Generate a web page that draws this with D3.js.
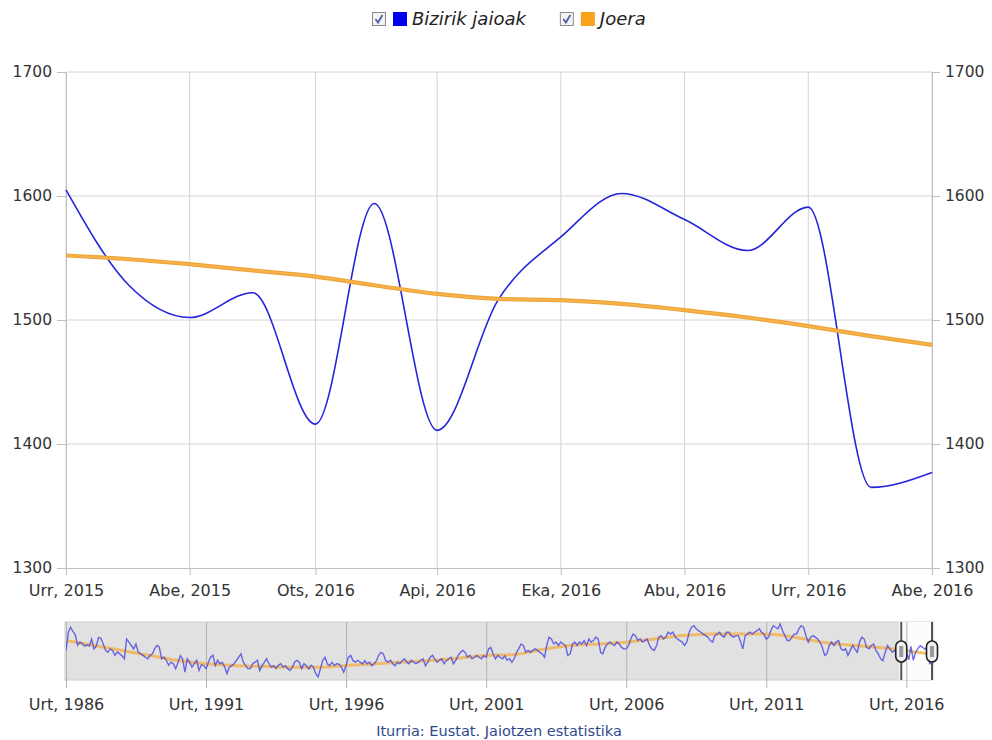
<!DOCTYPE html>
<html>
<head>
<meta charset="utf-8">
<script src="https://cdn.jsdelivr.net/npm/d3@7"></script>
<style>
body { margin: 0; background: #fff; }
text { font-family: "DejaVu Sans", Verdana, sans-serif; }
</style>
</head>
<body>
<div id="chart"></div>
<script>
// main window: Urr 2015 .. Abe 2016
var months = ["2015-10","2015-11","2015-12","2016-01","2016-02","2016-03","2016-04",
              "2016-05","2016-06","2016-07","2016-08","2016-09","2016-10","2016-11","2016-12"];
var births = [1605, 1528, 1502, 1522, 1416, 1594, 1411, 1516, 1567, 1602, 1581, 1556, 1591, 1365, 1377];
var trend  = [1552, 1549, 1545, 1540, 1535, 1528, 1521, 1517, 1516, 1513, 1508, 1502, 1495, 1487, 1480];

var monthNames = ["Urt","Ots","Mar","Api","Mai","Eka","Uzt","Abu","Ira","Urr","Aza","Abe"];
var yTicks = [1300, 1400, 1500, 1600, 1700];
var xTicks = ["2015-10","2015-12","2016-02","2016-04","2016-06","2016-08","2016-10","2016-12"];

// navigator: monthly births Urt 1986 .. Ira 2015 (rest comes from births above)
var navBirths = [
  1540,1780,1845,1790,1750,1610,1650,1630,1595,1610,1600,1690, // 1986
  1560,1600,1710,1700,1625,1540,1515,1560,1540,1475,1520,1495, // 1987
  1470,1430,1690,1650,1605,1560,1625,1515,1495,1475,1450,1430, // 1988
  1475,1495,1560,1605,1585,1430,1450,1410,1345,1385,1365,1300, // 1989
  1385,1470,1430,1255,1430,1385,1320,1365,1410,1275,1350,1340, // 1990
  1300,1385,1450,1475,1340,1410,1365,1385,1320,1235,1320,1340, // 1991
  1365,1410,1450,1495,1385,1340,1300,1300,1365,1385,1410,1275, // 1992
  1340,1385,1430,1365,1320,1340,1300,1345,1365,1320,1340,1300, // 1993
  1275,1320,1385,1410,1385,1300,1365,1340,1295,1345,1320,1235, // 1994
  1190,1300,1405,1450,1365,1340,1385,1340,1365,1360,1320,1255, // 1995
  1340,1450,1475,1405,1385,1410,1385,1365,1405,1365,1385,1340, // 1996
  1365,1405,1475,1515,1495,1405,1385,1410,1365,1340,1385,1365, // 1997
  1405,1430,1385,1365,1410,1385,1365,1385,1410,1430,1340,1385, // 1998
  1450,1475,1430,1385,1410,1430,1365,1405,1430,1450,1365,1410, // 1999
  1475,1515,1540,1515,1450,1475,1430,1450,1475,1450,1430,1470, // 2000
  1450,1560,1580,1495,1430,1475,1450,1430,1470,1410,1430,1385, // 2001
  1430,1515,1560,1625,1605,1515,1540,1515,1540,1560,1540,1515, // 2002
  1495,1450,1605,1715,1690,1625,1650,1605,1650,1625,1605,1475, // 2003
  1495,1625,1650,1605,1650,1625,1670,1605,1690,1650,1670,1715, // 2004
  1690,1515,1495,1580,1625,1650,1625,1605,1650,1625,1580,1560, // 2005
  1560,1605,1690,1755,1735,1670,1690,1650,1670,1690,1605,1560, // 2006
  1540,1605,1715,1735,1690,1715,1780,1755,1780,1715,1690,1670, // 2007
  1650,1605,1650,1780,1845,1865,1825,1800,1780,1755,1735,1715, // 2008
  1670,1650,1735,1755,1780,1735,1715,1780,1780,1735,1715,1735, // 2009
  1735,1650,1560,1735,1755,1780,1755,1780,1800,1825,1780,1755, // 2010
  1690,1715,1800,1865,1845,1825,1888,1800,1735,1670,1670,1715, // 2011
  1755,1755,1825,1865,1845,1735,1650,1715,1735,1715,1690,1650, // 2012
  1580,1475,1495,1605,1650,1605,1650,1670,1560,1540,1560,1475, // 2013
  1540,1605,1560,1515,1650,1715,1690,1580,1560,1605,1625,1540, // 2014
  1495,1430,1405,1515,1605,1560,1515,1540,1495                 // 2015
];
// navigator trend, read once per year (Urt) 1986 .. 2015
var navTrendYears = d3.range(1986, 2016);
var navTrend = [1670,1604,1539,1473,1407,1364,1342,1330,1320,1320,
                1342,1364,1386,1407,1438,1473,1486,1552,1604,1626,
                1648,1691,1735,1757,1757,1757,1713,1648,1610,1580];
var navTicks = ["1986-01","1991-01","1996-01","2001-01","2006-01","2011-01","2016-01"];

var parse = d3.timeParse("%Y-%m");
var fmt = function(d) { return monthNames[d.getMonth()] + ", " + d.getFullYear(); };

var W = 992, H = 740;
var pLeft = 66, pRight = 932, pTop = 72, pBottom = 568;

var svg = d3.select("#chart").append("svg")
    .attr("width", W)
    .attr("height", H);

var x = d3.scaleTime()
    .domain([parse(months[0]), parse(months[months.length - 1])])
    .range([pLeft, pRight]);
var y = d3.scaleLinear()
    .domain([1300, 1700])
    .range([pBottom, pTop]);

// grid
svg.append("g").selectAll("line")
    .data(yTicks.slice(1))
    .join("line")
    .attr("x1", pLeft).attr("x2", pRight)
    .attr("y1", function(d) { return y(d); })
    .attr("y2", function(d) { return y(d); })
    .attr("stroke", "#d4d4d4");
svg.append("g").selectAll("line")
    .data(xTicks.map(parse))
    .join("line")
    .attr("x1", function(d) { return x(d); })
    .attr("x2", function(d) { return x(d); })
    .attr("y1", pTop).attr("y2", pBottom)
    .attr("stroke", "#d4d4d4");

function styleAxis(g, size) {
    g.select(".domain").attr("stroke", "#c0c0c0");
    g.selectAll(".tick line").attr("stroke", "#c0c0c0");
    g.selectAll(".tick text")
        .attr("fill", "#333")
        .style("font-size", size + "px")
        .style("font-family", '"DejaVu Sans", Verdana, sans-serif');
}

svg.append("g")
    .attr("transform", "translate(" + pLeft + ",0)")
    .call(d3.axisLeft(y).tickValues(yTicks).tickFormat(d3.format("d"))
        .tickSizeInner(9).tickSizeOuter(0).tickPadding(5))
    .call(styleAxis, 15.5);
svg.append("g")
    .attr("transform", "translate(" + pRight + ",0)")
    .call(d3.axisRight(y).tickValues(yTicks).tickFormat(d3.format("d"))
        .tickSizeInner(8).tickSizeOuter(0).tickPadding(5))
    .call(styleAxis, 15.5);
svg.append("g")
    .attr("transform", "translate(0," + pBottom + ")")
    .call(d3.axisBottom(x).tickValues(xTicks.map(parse)).tickFormat(fmt)
        .tickSizeInner(7).tickSizeOuter(0).tickPadding(10))
    .call(styleAxis, 16);

// series
var line = d3.line()
    .x(function(d) { return x(d.date); })
    .y(function(d) { return y(d.value); })
    .curve(d3.curveMonotoneX);

var birthPts = months.map(function(m, i) { return { date: parse(m), value: births[i] }; });
var trendPts = months.map(function(m, i) { return { date: parse(m), value: trend[i] }; });

svg.append("path")
    .datum(birthPts)
    .attr("d", line)
    .attr("fill", "none")
    .attr("stroke", "#2424dc")
    .attr("stroke-width", 1.6);

svg.append("path")
    .datum(trendPts)
    .attr("d", line)
    .attr("fill", "none")
    .attr("stroke", "#eca43a")
    .attr("stroke-width", 4.2);
svg.append("path")
    .datum(trendPts)
    .attr("d", line)
    .attr("fill", "none")
    .attr("stroke", "#f7b24a")
    .attr("stroke-width", 2);

// legend
var legend = svg.append("g");
var items = [
    { name: "Bizirik jaioak", color: "#0000ee" },
    { name: "Joera", color: "#f7a21a" }
];
var lx = 0;
items.forEach(function(it) {
    var g = legend.append("g").attr("transform", "translate(" + lx + ",0)");
    g.append("rect")
        .attr("x", 0.5).attr("y", 12.5)
        .attr("width", 13).attr("height", 13)
        .attr("fill", "#f3f3f6").attr("stroke", "#8c8c8c");
    g.append("path")
        .attr("d", "M3.5,19 L6,22.5 L10.5,15")
        .attr("fill", "none").attr("stroke", "#4a62a8").attr("stroke-width", 1.8);
    g.append("rect")
        .attr("x", 21).attr("y", 12)
        .attr("width", 14).attr("height", 14)
        .attr("fill", it.color);
    var t = g.append("text")
        .attr("x", 40).attr("y", 25)
        .style("font-size", "18px")
        .style("font-style", "italic")
        .attr("fill", "#222")
        .text(it.name);
    lx += 40 + t.node().getComputedTextLength() + 34;
});
legend.attr("transform", "translate(" + (372) + ",0)");

// navigator
var nTop = 622, nBot = 680;
var navAll = navBirths.concat(births);
var navStart = parse("1986-01");
var navPts = navAll.map(function(v, i) {
    return { date: d3.timeMonth.offset(navStart, i), value: v };
});
var navTrendPts = navTrendYears.map(function(yr, i) {
    return { date: new Date(yr, 0, 1), value: navTrend[i] };
}).concat(trendPts);

var nx = d3.scaleTime()
    .domain([navStart, parse("2016-12")])
    .range([pLeft, pRight]);
var ny = d3.scaleLinear()
    .domain(d3.extent(navAll))
    .range([nBot - 3, nTop + 2]);

svg.append("rect")
    .attr("x", pLeft - 1).attr("y", nTop)
    .attr("width", pRight - pLeft + 2).attr("height", nBot - nTop)
    .attr("fill", "#e1e1e1")
    .attr("stroke", "#cfcfcf");

var x0 = nx(parse(months[0])), x1 = nx(parse(months[months.length - 1]));
svg.append("rect")
    .attr("x", x0).attr("y", nTop)
    .attr("width", x1 - x0 + 1).attr("height", nBot - nTop)
    .attr("fill", "#fcfcfc");

svg.append("g")
    .attr("transform", "translate(0," + nBot + ")")
    .call(d3.axisBottom(nx).tickValues(navTicks.map(parse)).tickFormat(fmt)
        .tickSizeInner(8).tickSizeOuter(0).tickPadding(11))
    .call(styleAxis, 16)
    .call(function(g) {
        g.select(".domain").remove();
        g.selectAll(".tick line").attr("y1", nTop - nBot).attr("stroke", "#b4b4b4");
    });

svg.append("clipPath").attr("id", "navclip")
    .append("rect")
    .attr("x", pLeft).attr("y", nTop)
    .attr("width", pRight - pLeft).attr("height", nBot - nTop);

var nline = d3.line()
    .x(function(d) { return nx(d.date); })
    .y(function(d) { return ny(d.value); });

svg.append("path")
    .datum(navTrendPts)
    .attr("clip-path", "url(#navclip)")
    .attr("d", nline.curve(d3.curveMonotoneX))
    .attr("fill", "none")
    .attr("stroke", "#f2b04c")
    .attr("stroke-opacity", 0.8)
    .attr("stroke-width", 3);
svg.append("path")
    .datum(navPts)
    .attr("clip-path", "url(#navclip)")
    .attr("d", nline.curve(d3.curveLinear))
    .attr("fill", "none")
    .attr("stroke", "#4646e4")
    .attr("stroke-opacity", 0.8)
    .attr("stroke-width", 1.4);

// handles
[x0 + 2, x1].forEach(function(hx) {
    svg.append("line")
        .attr("x1", hx).attr("x2", hx)
        .attr("y1", nTop).attr("y2", nBot)
        .attr("stroke", "#555")
        .attr("stroke-width", 2);
    svg.append("rect")
        .attr("x", hx - 5.5).attr("y", 641)
        .attr("width", 11).attr("height", 21)
        .attr("rx", 5.5)
        .attr("fill", "#f2f2f2")
        .attr("stroke", "#222")
        .attr("stroke-width", 1.6);
    svg.append("rect")
        .attr("x", hx - 2).attr("y", 646)
        .attr("width", 4).attr("height", 11)
        .attr("fill", "#999");
});

// source
svg.append("text")
    .attr("x", 499).attr("y", 736)
    .attr("text-anchor", "middle")
    .style("font-size", "14.5px")
    .attr("fill", "#2f4a8c")
    .text("Iturria: Eustat. Jaiotzen estatistika");
</script>
</body>
</html>
